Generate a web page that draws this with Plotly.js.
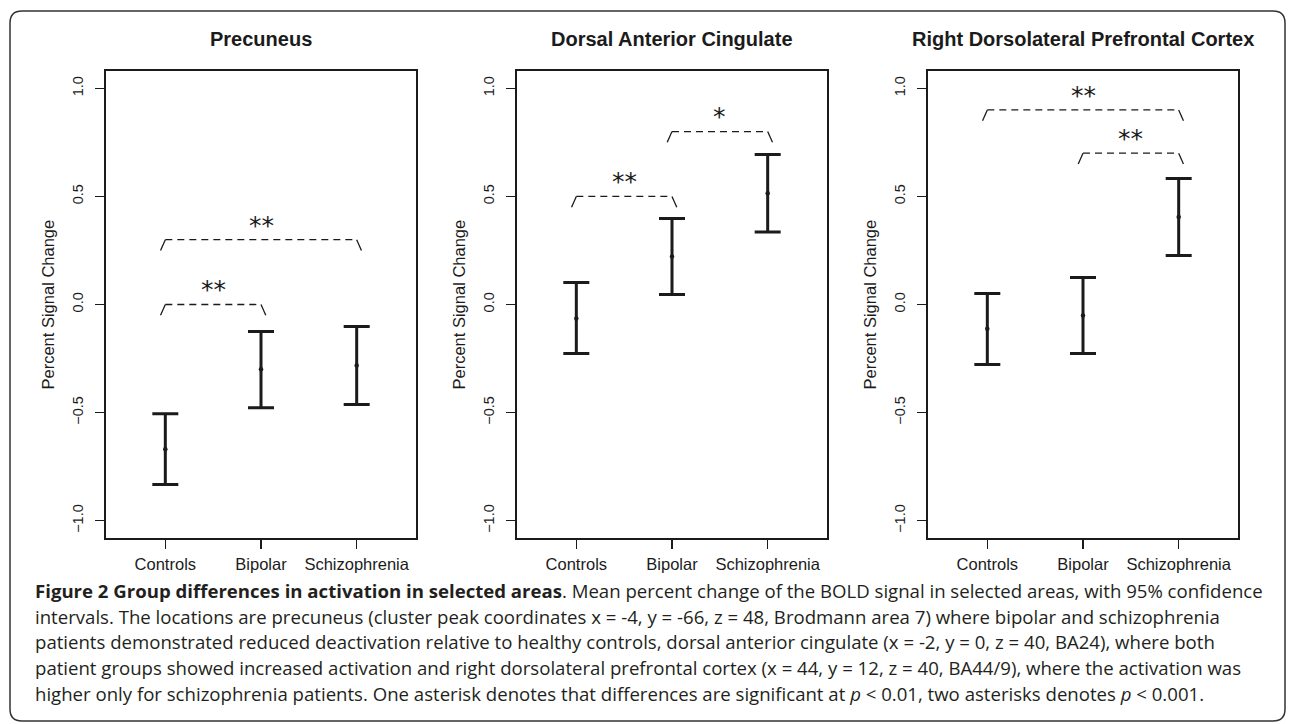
<!DOCTYPE html>
<html>
<head>
<meta charset="utf-8">
<script src="https://cdn.plot.ly/plotly-3.0.1.min.js"></script>
<style>
  html, body { margin: 0; padding: 0; background: #ffffff; }
  #chart { width: 1290px; height: 724px; }
</style>
</head>
<body>
<div id="chart"></div>
<script>
// ---------- data ----------
const categories = ["Controls", "Bipolar", "Schizophrenia"];
const panelTitles = ["Precuneus", "Dorsal Anterior Cingulate", "Right Dorsolateral Prefrontal Cortex"];
const yAxisTitle = "Percent Signal Change";

const precuneusMean  = [-0.670, -0.300, -0.282];
const precuneusUpper = [-0.505, -0.125, -0.102];
const precuneusLower = [-0.833, -0.477, -0.463];

const cingulateMean  = [-0.065, 0.222, 0.515];
const cingulateUpper = [0.102, 0.398, 0.694];
const cingulateLower = [-0.227, 0.046, 0.335];

const dlpfcMean  = [-0.112, -0.051, 0.405];
const dlpfcUpper = [0.051, 0.125, 0.583];
const dlpfcLower = [-0.278, -0.227, 0.227];

const yTickVals = [-1, -0.5, 0, 0.5, 1];
const yTickText = ["\u22121.0", "\u22120.5", "0.0", "0.5", "1.0"];

// significance brackets: [from group, to group, level, stars]
const precuneusBrackets = [[1, 2, 0.0, "**"], [1, 3, 0.3, "**"]];
const cingulateBrackets = [[1, 2, 0.5, "**"], [2, 3, 0.8, "*"]];
const dlpfcBrackets     = [[1, 3, 0.9, "**"], [2, 3, 0.7, "**"]];

const captionLines = [
  "<b>Figure 2 Group differences in activation in selected areas</b>. Mean percent change of the BOLD signal in selected areas, with 95% confidence",
  "intervals. The locations are precuneus (cluster peak coordinates x = -4, y = -66, z = 48, Brodmann area 7) where bipolar and schizophrenia",
  "patients demonstrated reduced deactivation relative to healthy controls, dorsal anterior cingulate (x = -2, y = 0, z = 40, BA24), where both",
  "patient groups showed increased activation and right dorsolateral prefrontal cortex (x = 44, y = 12, z = 40, BA44/9), where the activation was",
  "higher only for schizophrenia patients. One asterisk denotes that differences are significant at <i>p</i> &lt; 0.01, two asterisks denotes <i>p</i> &lt; 0.001."
];

// ---------- layout helpers ----------
const W = 1290, H = 724;
const px = v => v / W;
const py = v => 1 - v / H;
const ink = "#1b1b1b";
const chartFont = "Liberation Sans, Arial, sans-serif";

const panels = [
  { mean: precuneusMean, up: precuneusUpper, lo: precuneusLower, br: precuneusBrackets, left: 106, right: 416 },
  { mean: cingulateMean, up: cingulateUpper, lo: cingulateLower, br: cingulateBrackets, left: 517, right: 827 },
  { mean: dlpfcMean,     up: dlpfcUpper,     lo: dlpfcLower,     br: dlpfcBrackets,     left: 928, right: 1238 }
];
const plotTop = 71, plotBottom = 538;

const traces = [];
const annotations = [];
const layout = {
  width: W, height: H,
  margin: { l: 0, r: 0, t: 0, b: 0 },
  paper_bgcolor: "#ffffff",
  plot_bgcolor: "#ffffff",
  showlegend: false,
  font: { family: chartFont, color: ink },
  shapes: []
};

const xPos = categories.map((c, i) => i + 1);

panels.forEach((p, k) => {
  const sfx = k === 0 ? "" : String(k + 1);
  const xa = "x" + sfx, ya = "y" + sfx;

  layout["xaxis" + sfx] = {
    domain: [px(p.left), px(p.right)],
    anchor: ya,
    range: [0.38, 3.62],
    tickvals: xPos,
    ticktext: categories,
    ticks: "outside", ticklen: 9, tickwidth: 1.4, tickcolor: ink,
    showline: true, mirror: true, linecolor: ink, linewidth: 1.6,
    showgrid: false, zeroline: false,
    tickfont: { size: 16.5, family: chartFont, color: ink },
    ticklabelstandoff: 2,
    fixedrange: true
  };
  layout["yaxis" + sfx] = {
    domain: [py(plotBottom), py(plotTop)],
    anchor: xa,
    range: [-1.08, 1.08],
    tickvals: yTickVals,
    ticktext: yTickText,
    tickangle: -90,
    ticks: "outside", ticklen: 9, tickwidth: 1.4, tickcolor: ink,
    showline: true, mirror: true, linecolor: ink, linewidth: 1.6,
    showgrid: false, zeroline: false,
    tickfont: { size: 14.5, family: chartFont, color: ink },
    ticklabelstandoff: 7,
    fixedrange: true
  };

  // error bars with means
  traces.push({
    type: "scatter", mode: "markers",
    x: xPos, y: p.mean, xaxis: xa, yaxis: ya,
    marker: { size: 4.5, color: ink },
    error_y: {
      type: "data", symmetric: false,
      array: p.up.map((u, i) => u - p.mean[i]),
      arrayminus: p.mean.map((m, i) => m - p.lo[i]),
      color: ink, thickness: 3, width: 13
    },
    hoverinfo: "skip"
  });

  // significance brackets
  p.br.forEach(b => {
    const [a, c, lev, stars] = b;
    traces.push({
      type: "scatter", mode: "lines",
      x: [a, c], y: [lev, lev], xaxis: xa, yaxis: ya,
      line: { color: ink, width: 1.3, dash: "7px,5px" },
      hoverinfo: "skip"
    });
    traces.push({
      type: "scatter", mode: "lines",
      x: [a - 0.05, a], y: [lev - 0.05, lev], xaxis: xa, yaxis: ya,
      line: { color: ink, width: 1.3 }, hoverinfo: "skip"
    });
    traces.push({
      type: "scatter", mode: "lines",
      x: [c, c + 0.05], y: [lev, lev - 0.05], xaxis: xa, yaxis: ya,
      line: { color: ink, width: 1.3 }, hoverinfo: "skip"
    });
    annotations.push({
      xref: xa, yref: ya, x: (a + c) / 2, y: lev + 0.1,
      text: stars, showarrow: false, xanchor: "center", yanchor: "middle",
      yshift: -7,
      font: { size: 25, family: "DejaVu Sans, sans-serif", color: ink }
    });
  });

  // panel title
  annotations.push({
    xref: "paper", yref: "paper",
    x: px((p.left + p.right) / 2), y: py(39),
    text: "<b>" + panelTitles[k] + "</b>", showarrow: false,
    xanchor: "center", yanchor: "middle",
    font: { size: 20, family: chartFont, color: ink }
  });
  // y-axis title
  annotations.push({
    xref: "paper", yref: "paper",
    x: px(p.left - 59), y: py((plotTop + plotBottom) / 2),
    text: yAxisTitle, showarrow: false, textangle: -90,
    xanchor: "center", yanchor: "middle",
    font: { size: 16.5, family: chartFont, color: ink }
  });
});

// caption
const captionY = [590, 616, 641.5, 667, 693];
captionLines.forEach((t, i) => {
  annotations.push({
    xref: "paper", yref: "paper",
    x: px(33), y: py(captionY[i]),
    text: t, showarrow: false, xanchor: "left", yanchor: "middle",
    font: { size: 18.6, family: "Open Sans, Noto Sans, sans-serif", color: "#231f20" }
  });
});

// rounded outer border
const L = 10, R = 1285, T = 11, B = 721, r = 12;
layout.shapes.push({
  type: "path", xref: "paper", yref: "paper",
  path: `M ${px(L + r)} ${py(T)} L ${px(R - r)} ${py(T)} Q ${px(R)} ${py(T)} ${px(R)} ${py(T + r)} ` +
        `L ${px(R)} ${py(B - r)} Q ${px(R)} ${py(B)} ${px(R - r)} ${py(B)} ` +
        `L ${px(L + r)} ${py(B)} Q ${px(L)} ${py(B)} ${px(L)} ${py(B - r)} ` +
        `L ${px(L)} ${py(T + r)} Q ${px(L)} ${py(T)} ${px(L + r)} ${py(T)} Z`,
  line: { color: "#333333", width: 1.5 },
  fillcolor: "rgba(0,0,0,0)"
});

layout.annotations = annotations;

Plotly.newPlot("chart", traces, layout, { staticPlot: true, displayModeBar: false });
</script>
</body>
</html>
